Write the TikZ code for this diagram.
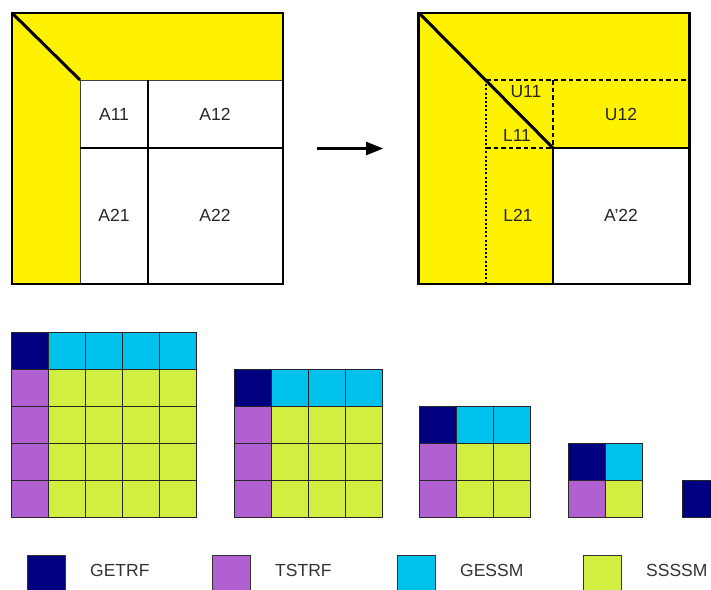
\documentclass[tikz,border=0pt]{standalone}
\usepackage{fontspec}
\setmainfont{Liberation Sans}
\usetikzlibrary{arrows.meta, positioning}
\definecolor{getrf}{RGB}{0,0,128}
\definecolor{tstrf}{RGB}{176,96,208}
\definecolor{gessm}{RGB}{0,192,236}
\definecolor{ssssm}{RGB}{210,238,64}
\tikzset{
  matbox/.style={rectangle, draw=black, line width=2.6pt, minimum width=271pt, minimum height=271pt, inner sep=0pt},
  split/.style={line width=2.4pt},
  edge/.style={line width=1pt, draw=black!75},
  dashsplit/.style={line width=2pt, dash pattern=on 4.5pt off 3pt},
  dotsplit/.style={line width=2.8pt, dash pattern=on 2pt off 2.2pt},
  lbl/.style={font=\fontsize{17.5}{20}\selectfont, text=black!85, inner sep=0pt},
  cell/.style={draw=black!85, line width=1pt},
  legbox/.style={draw=black!80, line width=1pt, minimum width=38pt, minimum height=38pt, inner sep=0pt, anchor=north west},
  legtext/.style={font=\fontsize{17.5}{20}\selectfont, text=black!80, inner sep=0pt, yshift=4pt},
  arrow/.style={-{Triangle[length=17pt,width=13pt]}, line width=2.2pt},
}

\begin{document}
\begin{tikzpicture}[x=1pt, y=-1pt]
  \useasboundingbox (0,0) rectangle (711,589);
  \clip (0,0) rectangle (711,589);
  % matrix before the step
  \fill[yellow] (12,13) rectangle (283,80);
  \fill[yellow] (12,13) rectangle (80,284);
  \draw[edge] (80,284) -- (80,80) -- (283,80);
  \draw[split] (148,80) -- (148,284);
  \draw[split] (80,148) -- (283,148);
  \draw[line width=3pt] (12,13) -- (80,80);
  \node[matbox] (before) at (147.5,148.5) {};
  \node[lbl] (a11) at (114,114) {A11};
  \node[lbl] (a12) at (215,114) {A12};
  \node[lbl] (a21) at (114,215) {A21};
  \node[lbl] (a22) at (215,215) {A22};
  % matrix after the step
  \fill[yellow] (419,13) rectangle (689,284);
  \fill[white] (553,148) rectangle (689,284);
  \draw[dashsplit] (486,80) -- (689,80);
  \draw[dashsplit] (553,80) -- (553,148);
  \draw[dashsplit] (486,148) -- (553,148);
  \draw[dotsplit] (486,80) -- (486,284);
  \draw[split] (553,284) -- (553,148) -- (689,148);
  \draw[line width=3pt] (419,13) -- (553,148);
  \node[matbox] (after) at (554,148.5) {};
  \node[lbl] (u11) at (526,92) {U11};
  \node[lbl] (l11) at (517,135) {L11};
  \node[lbl] (u12) at (621,114) {U12};
  \node[lbl] (l21) at (518,215) {L21};
  \node[lbl] (a22p) at (621,215) {A'22};
  \draw[arrow] ([xshift=33pt]before.east) -- ([xshift=-34pt]after.west);
  % tile grids, one per step
  \foreach \gx/\n in {11/5, 234/4, 419/3, 568/2, 682/1} {
    \pgfmathsetmacro{\gs}{\n*37}
    \fill[ssssm] (\gx,517) rectangle ++(\gs,-\gs);
    \fill[gessm] (\gx,{517-\gs}) rectangle ++(\gs,37);
    \fill[tstrf] (\gx,517) rectangle ++(37,-\gs);
    \fill[getrf] (\gx,{517-\gs}) rectangle ++(37,37);
    \foreach \i in {1,...,\n}
      \foreach \j in {1,...,\n}
        \draw[cell] ({\gx+(\i-1)*37},{517-\j*37}) rectangle ++(37,37);
  }
  % legend
  \foreach \kx/\kname/\ktext in {27/getrf/GETRF, 212/tstrf/TSTRF, 397/gessm/GESSM, 583/ssssm/SSSSM} {
    \node[legbox, fill=\kname] (key\ktext) at (\kx,555) {};
    \node[legtext, right=24pt of key\ktext] (lab\ktext) {\ktext};
  }
\end{tikzpicture}
\end{document}
